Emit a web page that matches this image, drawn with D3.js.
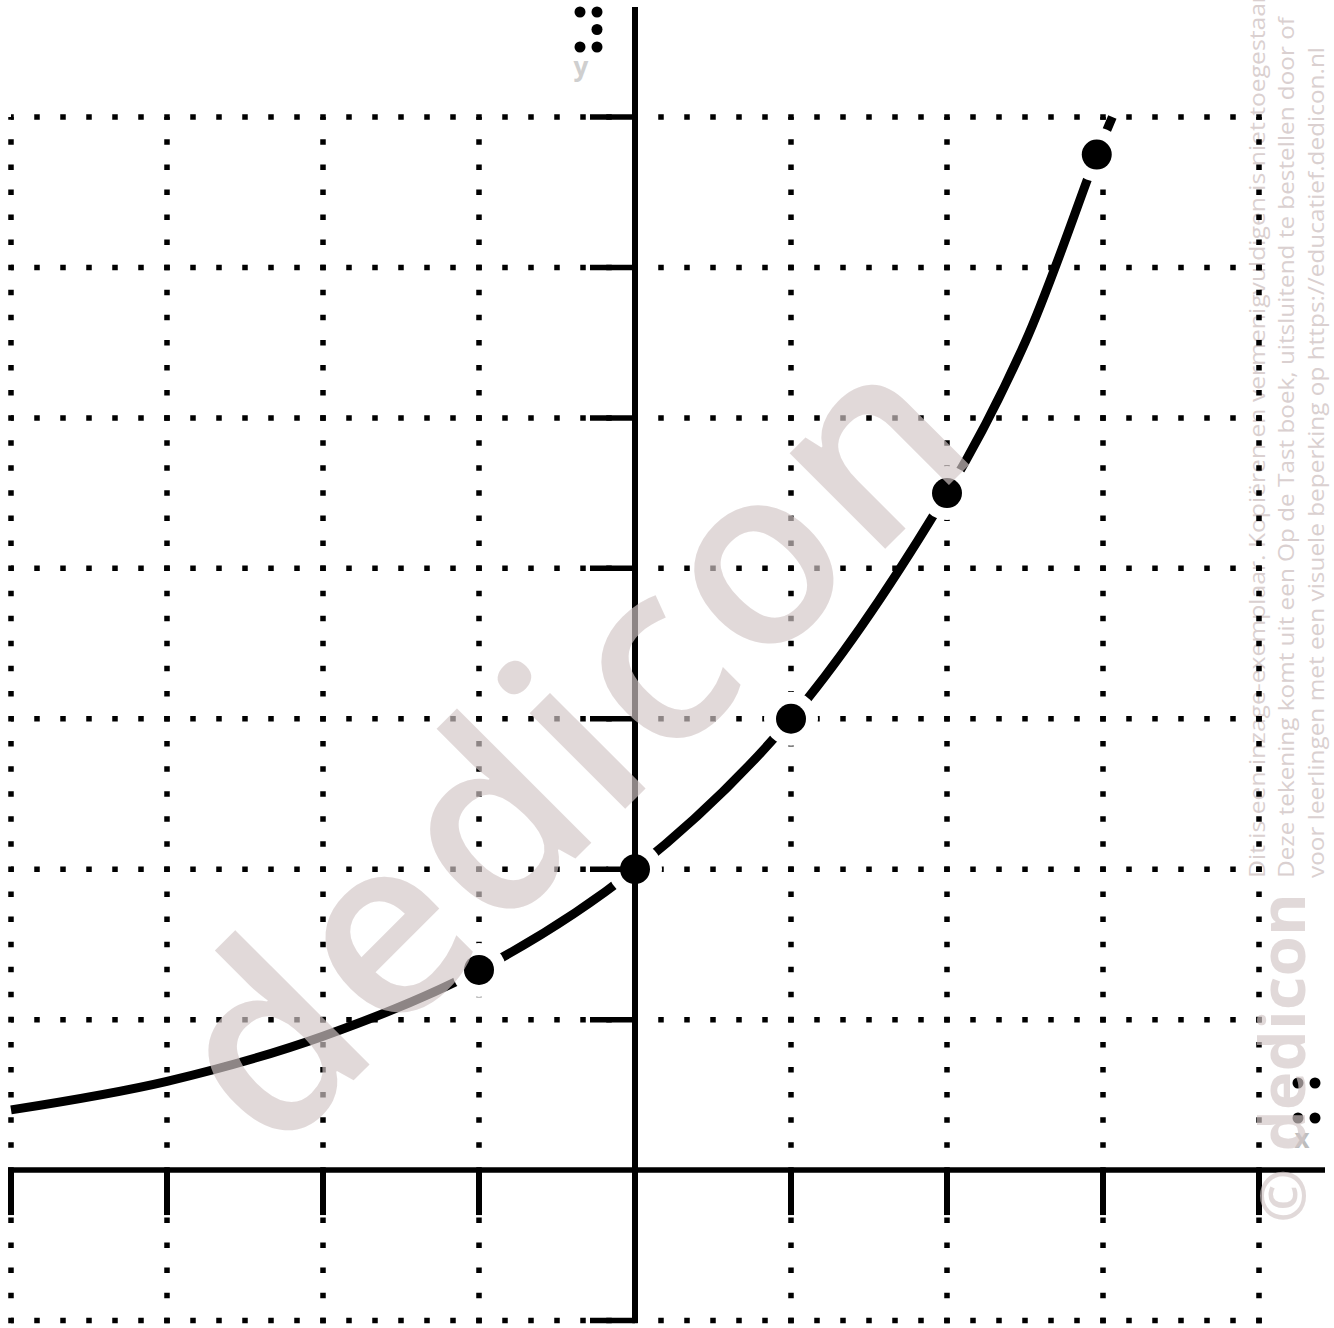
<!DOCTYPE html>
<html><head><meta charset="utf-8">
<script src="https://cdn.jsdelivr.net/npm/d3@7"></script>
<style>html,body{margin:0;padding:0;background:#fff}svg{display:block}</style>
</head><body>
<script>
// ---- data ----
const xTicks = [-4, -3, -2, -1, 0, 1, 2, 3, 4];
const yTicks = [-1, 0, 1, 2, 3, 4, 5, 6, 7];
const curveX = [-4, -3, -2, -1, 0, 1, 2, 2.5, 2.96, 3.06];
const curveY = [0.40, 0.59, 0.89, 1.33, 2, 3, 4.5, 5.5, 6.75, 7.0];
const pointX = [-1, 0, 1, 2, 2.96];
const pointY = [1.33, 2, 3, 4.5, 6.75];
const xLabel = "x";
const yLabel = "y";
const brailleX = [[0,0],[1,0],[0,2],[1,2]];          // dots 1,3,4,6
const brailleY = [[0,0],[1,0],[1,1],[0,2],[1,2]];    // dots 1,3,4,5,6
const watermark = "dedicon";
const copyright = "© dedicon";
const noticeLines = [
  "Dit is een inzage-exemplaar. Kopiëren en vermenigvuldigen is niet toegestaan",
  "Deze tekening komt uit een Op de Tast boek, uitsluitend te bestellen door of",
  "voor leerlingen met een visuele beperking op https://educatief.dedicon.nl"
];

const W = 1334, H = 1328;
const svg = d3.select("body").append("svg").attr("width", W).attr("height", H);
svg.append("rect").attr("width", W).attr("height", H).attr("fill", "#fff");

const x = d3.scaleLinear().domain([-4, 4]).range([11, 1259]);
const y = d3.scaleLinear().domain([-1, 7]).range([1320.5, 117]);

// notice text (under the grid)
const noticeG = svg.append("g");
const noticeBase = [1265, 1294, 1324];
const noticeLen = [890, 861, 831];
noticeLines.forEach((t, i) => {
  noticeG.append("text")
    .attr("transform", `translate(${noticeBase[i]},878) rotate(-90)`)
    .attr("font-family", "Open Sans")
    .attr("font-size", 22)
    .attr("fill", "#dad0d0")
    .attr("textLength", noticeLen[i])
    .attr("lengthAdjust", "spacingAndGlyphs")
    .text(t);
});

// dotted grid
const stepX = (x(4) - x(-4)) / 48;
const stepY = (y(-1) - y(7)) / 48;
const grid = svg.append("g").attr("stroke", "#000").attr("stroke-width", 5.5).attr("fill", "none");
grid.selectAll(".gv").data(xTicks.filter(d => d !== 0)).join("line")
  .attr("x1", d => x(d)).attr("x2", d => x(d))
  .attr("y1", y(7)).attr("y2", y(-1) + 3)
  .attr("stroke-dasharray", `5.5 ${stepY - 5.5}`)
  .attr("stroke-dashoffset", 2.75);
grid.selectAll(".gh").data(yTicks.filter(d => d !== 0)).join("line")
  .attr("y1", d => y(d)).attr("y2", d => y(d))
  .attr("x1", x(-4)).attr("x2", x(4) + 3)
  .attr("stroke-dasharray", `5.5 ${stepX - 5.5}`)
  .attr("stroke-dashoffset", 2.75);

// curve
const pts = curveX.map((v, i) => [v, curveY[i]]);
const line = d3.line().x(d => x(d[0])).y(d => y(d[1])).curve(d3.curveCatmullRom.alpha(0.5));
svg.append("path").attr("d", line(pts)).attr("fill", "none")
  .attr("stroke", "#000").attr("stroke-width", 9);

// halos
const P = pointX.map((v, i) => [v, pointY[i]]);
svg.append("g").selectAll("circle").data(P).join("circle")
  .attr("cx", d => x(d[0])).attr("cy", d => y(d[1])).attr("r", 27).attr("fill", "#fff");

// axes
const ax = svg.append("g").attr("stroke", "#000");
ax.append("line").attr("x1", 8).attr("x2", 1325).attr("y1", y(0)).attr("y2", y(0)).attr("stroke-width", 5.5);
ax.append("line").attr("x1", x(0)).attr("x2", x(0)).attr("y1", 7).attr("y2", 1323).attr("stroke-width", 6);
ax.selectAll(".tx").data(xTicks.filter(d => d !== 0)).join("line")
  .attr("x1", d => x(d)).attr("x2", d => x(d))
  .attr("y1", y(0)).attr("y2", y(0) + 45).attr("stroke-width", 6);
ax.selectAll(".ty").data(yTicks.filter(d => d !== 0)).join("line")
  .attr("y1", d => y(d)).attr("y2", d => y(d))
  .attr("x1", x(0) - 45).attr("x2", x(0)).attr("stroke-width", 5.5);

// points
svg.append("g").selectAll("circle").data(P).join("circle")
  .attr("cx", d => x(d[0])).attr("cy", d => y(d[1])).attr("r", 15).attr("fill", "#000");

// braille + labels
function braille(cells, ox, oy) {
  svg.append("g").selectAll("circle").data(cells).join("circle")
    .attr("cx", d => ox + d[0] * 17).attr("cy", d => oy + d[1] * 17.5)
    .attr("r", 5.5).attr("fill", "#000");
}
braille(brailleY, 580, 12);
braille(brailleX, 1298, 1083);
svg.append("text").attr("x", 581).attr("y", 76).attr("text-anchor", "middle")
  .attr("font-family", "Open Sans").attr("font-weight", 700).attr("font-size", 26)
  .attr("fill", "#cfcfcf").text(yLabel);
svg.append("text").attr("x", 1302).attr("y", 1148).attr("text-anchor", "middle")
  .attr("font-family", "Open Sans").attr("font-weight", 700).attr("font-size", 26)
  .attr("fill", "#bdbdbd").text(xLabel);

// watermark
svg.append("text")
  .attr("transform", "translate(274,1160) rotate(-45)")
  .attr("font-family", "Open Sans").attr("font-weight", 600).attr("font-size", 250)
  .attr("letter-spacing", 7)
  .attr("fill", "rgb(210,198,198)").attr("fill-opacity", 0.67)
  .text(watermark);
svg.append("text")
  .attr("transform", "translate(1305,1223) rotate(-90)")
  .attr("font-family", "Open Sans").attr("font-weight", 700).attr("font-size", 62)
  .attr("fill", "rgb(210,198,198)").attr("fill-opacity", 0.67)
  .attr("textLength", 330)
  .attr("lengthAdjust", "spacingAndGlyphs")
  .text(copyright);
</script>
</body></html>
